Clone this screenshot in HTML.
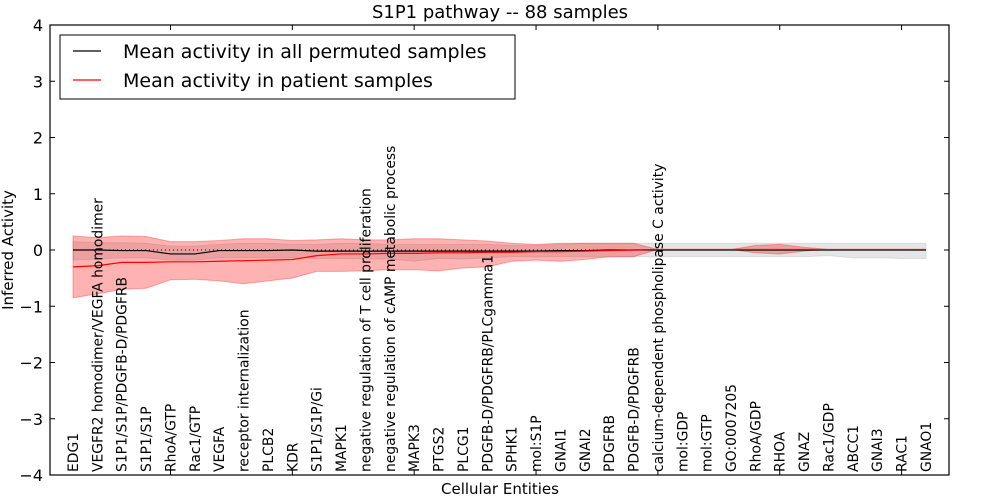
<!DOCTYPE html>
<html><head><meta charset="utf-8"><style>
html,body{margin:0;padding:0;background:#fff;}
svg{display:block;font-family:"DejaVu Sans","Liberation Sans",sans-serif;}
</style></head><body>
<svg id="chart" width="1000" height="500" viewBox="0 0 1000 500"></svg>
<script>
const categories = ["EDG1","VEGFR2 homodimer/VEGFA homodimer","S1P1/S1P/PDGFB-D/PDGFRB","S1P1/S1P","RhoA/GTP","Rac1/GTP","VEGFA","receptor internalization","PLCB2","KDR","S1P1/S1P/Gi","MAPK1","negative regulation of T cell proliferation","negative regulation of cAMP metabolic process","MAPK3","PTGS2","PLCG1","PDGFB-D/PDGFRB/PLCgamma1","SPHK1","mol:S1P","GNAI1","GNAI2","PDGFRB","PDGFB-D/PDGFRB","calcium-dependent phospholipase C activity","mol:GDP","mol:GTP","GO:0007205","RhoA/GDP","RHOA","GNAZ","Rac1/GDP","ABCC1","GNAI3","RAC1","GNAO1"];
const patientMean = [-0.30,-0.28,-0.22,-0.22,-0.21,-0.21,-0.20,-0.19,-0.18,-0.17,-0.10,-0.07,-0.07,-0.06,-0.06,-0.05,-0.05,-0.04,-0.04,-0.03,-0.03,-0.02,-0.01,0,0.01,0.01,0.01,0.01,0.01,0.01,0.01,0.01,0.01,0.01,0.01,0.01];
const patientUpper = [0.25,0.22,0.25,0.24,0.15,0.15,0.17,0.20,0.20,0.17,0.18,0.20,0.18,0.18,0.20,0.20,0.18,0.16,0.12,0.10,0.12,0.12,0.12,0.12,0.01,0.01,0.01,0.01,0.08,0.10,0.05,0.01,0.01,0.01,0.01,0.01];
const patientLower = [-0.85,-0.78,-0.70,-0.68,-0.53,-0.52,-0.55,-0.60,-0.55,-0.50,-0.38,-0.38,-0.37,-0.35,-0.35,-0.37,-0.32,-0.30,-0.20,-0.18,-0.20,-0.17,-0.12,-0.12,0.01,0.01,0.01,0.01,-0.05,-0.07,-0.02,0.01,0.01,0.01,0.01,0.01];
const permMean = [0,0,-0.01,-0.01,-0.07,-0.07,-0.01,-0.01,-0.01,0,-0.02,-0.02,-0.02,-0.02,-0.02,-0.02,-0.02,-0.02,-0.02,-0.02,-0.01,-0.01,0,0,0,0,0,0,0,0,0,0,0,0,0,0];
const permUpper = [0.15,0.13,0.13,0.12,0.07,0.07,0.10,0.12,0.12,0.10,0.10,0.12,0.12,0.10,0.10,0.10,0.10,0.10,0.08,0.08,0.10,0.12,0.12,0.12,0.12,0.12,0.12,0.12,0.12,0.12,0.12,0.12,0.12,0.12,0.12,0.12];
const permLower = [-0.18,-0.16,-0.14,-0.14,-0.18,-0.18,-0.14,-0.14,-0.14,-0.14,-0.15,-0.15,-0.16,-0.16,-0.20,-0.15,-0.16,-0.14,-0.12,-0.12,-0.12,-0.12,-0.12,-0.12,-0.12,-0.12,-0.12,-0.12,-0.12,-0.12,-0.12,-0.10,-0.14,-0.14,-0.15,-0.15];
const yTicks = [-4,-3,-2,-1,0,1,2,3,4];
const xTicks = [4,9,14,19,24,29,34];

const svg = document.getElementById('chart');
const NS = 'http://www.w3.org/2000/svg';
const L=50,R=949,T=25,B=475;
const xs = i => 73 + i*24.37;
const ys = v => 250 - v*56.25;
function mk(tag, attrs, parent){const e=document.createElementNS(NS,tag);for(const k in attrs)e.setAttribute(k,attrs[k]);(parent||svg).appendChild(e);return e;}
function band(up,lo){let d='M'+up.map((v,i)=>xs(i)+','+ys(v)).join('L');for(let i=lo.length-1;i>=0;i--)d+='L'+xs(i)+','+ys(lo[i]);return d+'Z';}
function line(a){return 'M'+a.map((v,i)=>xs(i)+','+ys(v)).join('L');}

const g1 = mk('path',{d:band(permUpper,permLower),fill:'#aaaaaa','fill-opacity':0.3,stroke:'#aaaaaa','stroke-opacity':0.3});


const g2 = mk('path',{d:band(patientUpper,patientLower),fill:'#ff0000','fill-opacity':0.3,stroke:'#ff0000','stroke-opacity':0.3});


const z = mk('line',{x1:xs(0),x2:xs(35),y1:ys(0),y2:ys(0),stroke:'#000','stroke-dasharray':'1,3','stroke-width':1});


const l1 = mk('path',{d:line(permMean),fill:'none',stroke:'#000','stroke-width':1.2});


const l2 = mk('path',{d:line(patientMean),fill:'none',stroke:'#ff0000','stroke-width':1.2});



categories.forEach((c,i)=>{
  const t = mk('text',{x:0,y:0,transform:'translate('+(xs(i)+5)+',472) rotate(-90)','font-size':13.9,fill:'#000'});
  t.textContent = c;
  
  
});

yTicks.forEach(v=>{
  const y=ys(v);
  mk('line',{x1:L,x2:L+5,y1:y,y2:y,stroke:'#000'});
  mk('line',{x1:R-5,x2:R,y1:y,y2:y,stroke:'#000'});
  const t = mk('text',{x:L-7,y:y+6,'text-anchor':'end','font-size':16,fill:'#000'});
  t.textContent = v<0 ? '\u2212'+Math.abs(v) : String(v);
  
  
});
xTicks.forEach(v=>{
  const x=xs(v);
  mk('line',{x1:x,x2:x,y1:B,y2:B-5,stroke:'#000'});
  mk('line',{x1:x,x2:x,y1:T,y2:T+5,stroke:'#000'});
});

const frame = mk('rect',{x:L,y:T,width:R-L,height:B-T,fill:'none',stroke:'#000','stroke-width':1.2});



const title = mk('text',{x:500,y:18,'text-anchor':'middle','font-size':18,fill:'#000'});
title.textContent='S1P1 pathway -- 88 samples';


const xt = mk('text',{x:500,y:494,'text-anchor':'middle','font-size':15,fill:'#000'});
xt.textContent='Cellular Entities';


const yt = mk('text',{x:0,y:0,transform:'translate(13,250) rotate(-90)','text-anchor':'middle','font-size':15,fill:'#000'});
yt.textContent='Inferred Activity';



const lg = mk('g',{});


mk('rect',{x:60,y:35,width:455,height:64,fill:'#fff',stroke:'#000','stroke-width':1},lg);
mk('line',{x1:73,x2:101,y1:51,y2:51,stroke:'#000','stroke-width':1.2},lg);
mk('line',{x1:73,x2:101,y1:80,y2:80,stroke:'#ff0000','stroke-width':1.2},lg);
const e1 = mk('text',{x:123,y:58,'font-size':19,fill:'#000'},lg);
e1.textContent='Mean activity in all permuted samples';


const e2 = mk('text',{x:123,y:87,'font-size':19,fill:'#000'},lg);
e2.textContent='Mean activity in patient samples';


</script>
</body></html>
